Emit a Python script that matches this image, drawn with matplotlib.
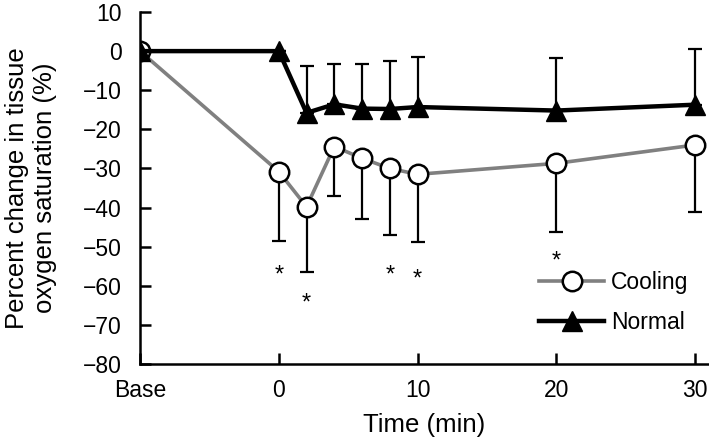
import matplotlib
matplotlib.use("Agg")
import matplotlib.pyplot as plt

plt.rcParams['font.family'] = ['Liberation Sans', 'DejaVu Sans']

# x positions (minutes); "Base" drawn at -10
time_points = [-10, 0, 2, 4, 6, 8, 10, 20, 30]
tick_positions = [-10, 0, 10, 20, 30]
tick_labels = ["Base", "0", "10", "20", "30"]

cooling = [0, -30.8, -39.8, -24.4, -27.4, -30.0, -31.5, -28.7, -24.0]
cooling_err_down = [0, 17.7, 16.6, 12.6, 15.4, 16.9, 17.2, 17.5, 17.1]

normal = [0, 0, -15.8, -13.6, -14.7, -14.8, -14.3, -15.2, -13.7]
normal_err_up = [0, 0, 11.9, 10.3, 11.4, 12.3, 12.7, 13.5, 14.2]

# significance asterisks (x, y)
star_x = [0, 2, 8, 10, 20]
star_y = [-55.3, -62.5, -55.3, -56.4, -51.9]

fig = plt.figure(figsize=(7.09, 4.46), dpi=100)
ax = fig.add_axes([140/709, 1-364/446, 1-140/709, (364-12)/446])

ax.errorbar(time_points, cooling, yerr=[cooling_err_down, [0]*len(cooling)], fmt='none',
            ecolor='black', elinewidth=1.6, capsize=5, capthick=1.6, zorder=2)
ax.errorbar(time_points, normal, yerr=[[0]*len(normal), normal_err_up], fmt='none',
            ecolor='black', elinewidth=1.6, capsize=5, capthick=1.6, zorder=2)

ax.plot(time_points, cooling, color='#808080', lw=2.6, marker='o', markersize=14,
        markerfacecolor='white', markeredgecolor='black', markeredgewidth=1.8,
        label='Cooling', zorder=3)
ax.plot(time_points, normal, color='black', lw=3.2, marker='^', markersize=14,
        markerfacecolor='black', markeredgecolor='black', label='Normal', zorder=4)

star_fs = 17
for sx, sy in zip(star_x, star_y):
    ax.annotate('*', xy=(sx, sy), xytext=(0, -0.58 * star_fs), textcoords='offset points',
                ha='center', va='baseline', fontsize=star_fs)

ax.set_xlim(-10, 31)
ax.set_ylim(-80, 10)
ax.set_xticks(tick_positions)
ax.set_xticklabels(tick_labels)
ax.set_yticks(range(-80, 11, 10))
ax.set_yticklabels([str(v).replace('-', '\u2212') for v in range(-80, 11, 10)])

for s in ['top', 'right']:
    ax.spines[s].set_visible(False)
for s in ['left', 'bottom']:
    ax.spines[s].set_linewidth(1.8)

ax.tick_params(axis='both', direction='in', length=8, width=1.8, labelsize=16.5)
ax.tick_params(axis='y', pad=13)
ax.tick_params(axis='x', pad=11)

ax.set_xlabel('Time (min)', fontsize=18.5, labelpad=8)
ax.set_ylabel('Percent change in tissue\noxygen saturation (%)', fontsize=18.5,
              labelpad=19, linespacing=1.18)

leg = ax.legend(loc='center left', bbox_to_anchor=(0.665, 0.175), frameon=False,
                fontsize=16.5, handlelength=2.85, labelspacing=0.75, handletextpad=0.3)

fig.savefig('out.png', dpi=100)
